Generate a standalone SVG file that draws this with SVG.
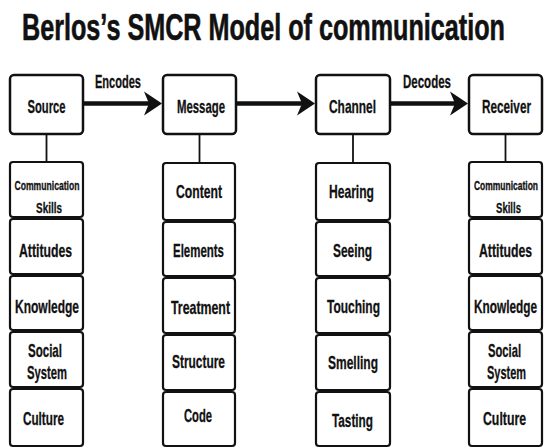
<svg xmlns="http://www.w3.org/2000/svg" width="544" height="448" viewBox="0 0 544 448">
  <style>
    text { font-family: "Liberation Sans Narrow", "Liberation Sans", Arial, sans-serif; font-weight: bold; fill: #111; text-anchor: middle; stroke: #111; stroke-width: 0.3; }
    .title { font-size: 37px; text-anchor: start; stroke-width: 0.6; }
    .head { fill: #fff; stroke: #111; stroke-width: 2.5; }
    .sub { fill: #fff; stroke: #111; stroke-width: 2.2; }
    .lbl { font-size: 18.5px; }
    .sm { font-size: 12px; }
    .sk { font-size: 15px; }
    .edge { stroke: #111; stroke-width: 4.5; fill: none; }
    .stem { stroke: #111; stroke-width: 1.8; fill: none; }
  </style>
  <defs>
    <marker id="arrow" markerUnits="userSpaceOnUse" viewBox="-6 -13 20 26" refX="0" refY="0" markerWidth="20" markerHeight="26" orient="auto" overflow="visible">
      <path d="M13,0 L-5,-12 L0,0 L-5,12 Z" fill="#111"/>
    </marker>
  </defs>

  <rect width="544" height="448" fill="#fff"/>

  <text class="title" x="22" y="40" textLength="483" lengthAdjust="spacingAndGlyphs">Berlos’s SMCR Model of communication</text>

  <!-- connectors -->
  <g id="connectors">
    <line class="edge" x1="84" y1="103.5" x2="149" y2="103.5" marker-end="url(#arrow)"/>
    <line class="edge" x1="237" y1="103.5" x2="302" y2="103.5" marker-end="url(#arrow)"/>
    <line class="edge" x1="391" y1="103.5" x2="455" y2="103.5" marker-end="url(#arrow)"/>
    <text class="lbl" x="118" y="88" textLength="46" lengthAdjust="spacingAndGlyphs">Encodes</text>
    <text class="lbl" x="427" y="88" textLength="48" lengthAdjust="spacingAndGlyphs">Decodes</text>
    <line class="stem" x1="46.5" y1="134" x2="46.5" y2="162"/>
    <line class="stem" x1="199.5" y1="134" x2="199.5" y2="163"/>
    <line class="stem" x1="353" y1="134" x2="353" y2="163"/>
    <line class="stem" x1="505.5" y1="134" x2="505.5" y2="162"/>
  </g>

  <!-- Source -->
  <g id="source">
    <rect class="head" x="10" y="75" width="73" height="59" rx="4"/>
    <text class="lbl" x="46.5" y="113" textLength="38" lengthAdjust="spacingAndGlyphs">Source</text>
  </g>
  <g id="source-attributes">
    <rect class="sub" x="10" y="162" width="73" height="55" rx="3"/>
    <rect class="sub" x="10" y="219" width="73" height="55" rx="3"/>
    <rect class="sub" x="10" y="276" width="73" height="54" rx="3"/>
    <rect class="sub" x="10" y="332" width="73" height="55" rx="3"/>
    <rect class="sub" x="10" y="389" width="73" height="57" rx="3"/>
    <text class="sm" x="47" y="190" textLength="65" lengthAdjust="spacingAndGlyphs">Communication</text>
    <text class="sk" x="49" y="213" textLength="26" lengthAdjust="spacingAndGlyphs">Skills</text>
    <text class="lbl" x="45.5" y="257" textLength="53" lengthAdjust="spacingAndGlyphs">Attitudes</text>
    <text class="lbl" x="47" y="313" textLength="64" lengthAdjust="spacingAndGlyphs">Knowledge</text>
    <text class="lbl" x="45" y="357" textLength="34" lengthAdjust="spacingAndGlyphs">Social</text>
    <text class="lbl" x="47" y="379" textLength="40" lengthAdjust="spacingAndGlyphs">System</text>
    <text class="lbl" x="43.5" y="425" textLength="41" lengthAdjust="spacingAndGlyphs">Culture</text>
  </g>

  <!-- Message -->
  <g id="message">
    <rect class="head" x="163" y="75" width="73" height="59" rx="4"/>
    <text class="lbl" x="201" y="113" textLength="48" lengthAdjust="spacingAndGlyphs">Message</text>
  </g>
  <g id="message-attributes">
    <rect class="sub" x="163" y="163" width="72" height="57" rx="3"/>
    <rect class="sub" x="163" y="222" width="72" height="54" rx="3"/>
    <rect class="sub" x="163" y="278" width="72" height="55" rx="3"/>
    <rect class="sub" x="163" y="335" width="72" height="55" rx="3"/>
    <rect class="sub" x="163" y="392" width="72" height="54" rx="3"/>
    <text class="lbl" x="199" y="198" textLength="46" lengthAdjust="spacingAndGlyphs">Content</text>
    <text class="lbl" x="198.5" y="257" textLength="51" lengthAdjust="spacingAndGlyphs">Elements</text>
    <text class="lbl" x="200.5" y="314" textLength="59" lengthAdjust="spacingAndGlyphs">Treatment</text>
    <text class="lbl" x="198.5" y="368" textLength="53" lengthAdjust="spacingAndGlyphs">Structure</text>
    <text class="lbl" x="198" y="422" textLength="28" lengthAdjust="spacingAndGlyphs">Code</text>
  </g>

  <!-- Channel -->
  <g id="channel">
    <rect class="head" x="316" y="75" width="74" height="59" rx="4"/>
    <text class="lbl" x="352.5" y="113" textLength="47" lengthAdjust="spacingAndGlyphs">Channel</text>
  </g>
  <g id="channel-attributes">
    <rect class="sub" x="316" y="163" width="74" height="57" rx="3"/>
    <rect class="sub" x="316" y="222" width="74" height="54" rx="3"/>
    <rect class="sub" x="316" y="278" width="74" height="55" rx="3"/>
    <rect class="sub" x="316" y="335" width="74" height="55" rx="3"/>
    <rect class="sub" x="316" y="392" width="74" height="54" rx="3"/>
    <text class="lbl" x="351.5" y="198" textLength="45" lengthAdjust="spacingAndGlyphs">Hearing</text>
    <text class="lbl" x="352.5" y="257" textLength="39" lengthAdjust="spacingAndGlyphs">Seeing</text>
    <text class="lbl" x="353.5" y="313" textLength="53" lengthAdjust="spacingAndGlyphs">Touching</text>
    <text class="lbl" x="353" y="369" textLength="50" lengthAdjust="spacingAndGlyphs">Smelling</text>
    <text class="lbl" x="352.5" y="427" textLength="41" lengthAdjust="spacingAndGlyphs">Tasting</text>
  </g>

  <!-- Receiver -->
  <g id="receiver">
    <rect class="head" x="469" y="75" width="73" height="59" rx="4"/>
    <text class="lbl" x="506.5" y="113" textLength="49" lengthAdjust="spacingAndGlyphs">Receiver</text>
  </g>
  <g id="receiver-attributes">
    <rect class="sub" x="469" y="162" width="73" height="55" rx="3"/>
    <rect class="sub" x="469" y="219" width="73" height="55" rx="3"/>
    <rect class="sub" x="469" y="276" width="73" height="54" rx="3"/>
    <rect class="sub" x="469" y="332" width="73" height="55" rx="3"/>
    <rect class="sub" x="469" y="389" width="73" height="57" rx="3"/>
    <text class="sm" x="506" y="190" textLength="64" lengthAdjust="spacingAndGlyphs">Communication</text>
    <text class="sk" x="508.5" y="213" textLength="25" lengthAdjust="spacingAndGlyphs">Skills</text>
    <text class="lbl" x="505.5" y="257" textLength="53" lengthAdjust="spacingAndGlyphs">Attitudes</text>
    <text class="lbl" x="505.5" y="313" textLength="63" lengthAdjust="spacingAndGlyphs">Knowledge</text>
    <text class="lbl" x="504.5" y="357" textLength="33" lengthAdjust="spacingAndGlyphs">Social</text>
    <text class="lbl" x="506.5" y="379" textLength="39" lengthAdjust="spacingAndGlyphs">System</text>
    <text class="lbl" x="504.5" y="425" textLength="43" lengthAdjust="spacingAndGlyphs">Culture</text>
  </g>
</svg>
